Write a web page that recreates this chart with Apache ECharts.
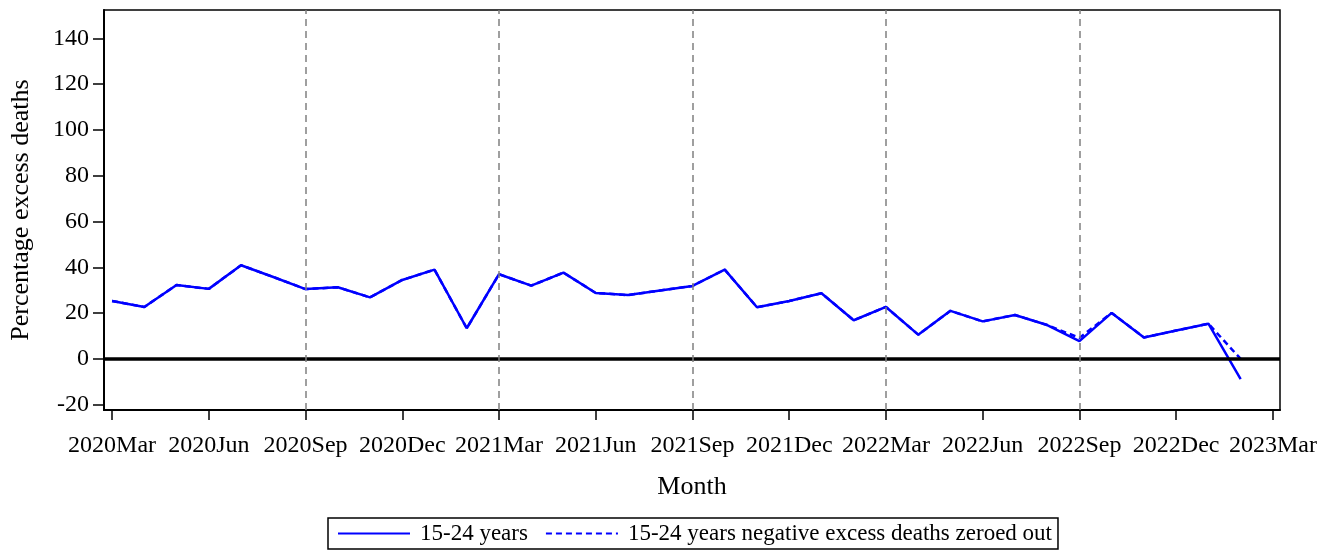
<!DOCTYPE html>
<html>
<head>
<meta charset="utf-8">
<script src="https://cdn.jsdelivr.net/npm/echarts@6/dist/echarts.min.js"></script>
<style>
  html, body { margin: 0; padding: 0; background: #fff; }
  #main { width: 1336px; height: 550px; }
</style>
</head>
<body>
<div id="main"></div>
<script>
// months, 2020 Mar .. 2023 Feb
var months = ['2020-03','2020-04','2020-05','2020-06','2020-07','2020-08','2020-09','2020-10','2020-11','2020-12',
  '2021-01','2021-02','2021-03','2021-04','2021-05','2021-06','2021-07','2021-08','2021-09','2021-10','2021-11','2021-12',
  '2022-01','2022-02','2022-03','2022-04','2022-05','2022-06','2022-07','2022-08','2022-09','2022-10','2022-11','2022-12',
  '2023-01','2023-02'];

// percentage excess deaths, 15-24 years
var excess = [25.3, 22.7, 32.3, 30.6, 40.9, 35.8, 30.5, 31.3, 26.9, 34.5,
  39.0, 13.4, 37.0, 32.0, 37.7, 28.8, 27.9, 29.9, 31.9, 39.0, 22.6, 25.3,
  28.7, 16.9, 22.7, 10.6, 21.0, 16.4, 19.2, 14.8, 7.8, 20.1, 9.4, 12.4,
  15.4, -8.8];

// same with negative excess deaths set to zero
var excessZeroed = [25.3, 22.7, 32.3, 30.6, 40.9, 35.8, 30.5, 31.3, 26.9, 34.5,
  39.0, 13.4, 37.0, 32.0, 37.7, 28.8, 27.9, 29.9, 31.9, 39.0, 22.6, 25.3,
  28.7, 16.9, 22.7, 10.6, 21.0, 16.4, 19.2, 14.8, 9.2, 20.1, 9.4, 12.4,
  15.4, 0];

var tickLabels = ['2020Mar','2020Jun','2020Sep','2020Dec','2021Mar','2021Jun','2021Sep',
  '2021Dec','2022Mar','2022Jun','2022Sep','2022Dec','2023Mar'];
var yTicks = [-20, 0, 20, 40, 60, 80, 100, 120, 140];
var refMonths = ['2020-09','2021-03','2021-09','2022-03','2022-09'];

var font = "'Liberation Serif', 'Times New Roman', serif";

// month index counted from 2020 Mar
function monthIdx(s) {
  var p = s.split('-');
  return (parseInt(p[0]) - 2020) * 12 + parseInt(p[1]) - 3;
}

var solidData = months.map(function (m, i) { return [monthIdx(m), excess[i]]; });
var dashData = months.map(function (m, i) { return [monthIdx(m), excessZeroed[i]]; });
var xTicks = tickLabels.map(function (t, i) { return i * 3; });

var myChart = echarts.init(document.getElementById('main'));
myChart.setOption({
  animation: false,
  textStyle: { fontFamily: font },
  grid: {
    left: 104, right: 56, top: 10, bottom: 140,
    outerBoundsMode: 'none',
    containLabel: false,
    show: true, borderColor: '#000', borderWidth: 1.5
  },
  legend: {
    bottom: 1,
    left: 328,
    data: ['15-24 years', '15-24 years negative excess deaths zeroed out'],
    borderColor: '#000',
    borderWidth: 1.5,
    padding: [4, 6, 4, 9],
    itemWidth: 72,
    itemHeight: 10,
    itemGap: 17,
    itemStyle: { color: 'rgba(0,0,0,0)', borderWidth: 0, opacity: 0 },
    textStyle: { fontFamily: font, fontSize: 23, color: '#000', padding: [0, 0, 0, 5] }
  },
  xAxis: {
    type: 'value',
    min: -0.25,
    max: 36.22,
    name: 'Month',
    nameLocation: 'middle',
    nameGap: 64,
    nameTextStyle: { fontFamily: font, fontSize: 26, color: '#000' },
    axisLine: { onZero: false, lineStyle: { color: '#000', width: 2 } },
    axisTick: { show: true, customValues: xTicks, length: 10, lineStyle: { color: '#000', width: 1.5 } },
    axisLabel: {
      customValues: xTicks,
      margin: 24,
      fontSize: 24,
      color: '#000',
      fontFamily: font,
      formatter: function (v) { return tickLabels[Math.round(v / 3)]; }
    },
    splitLine: { show: false }
  },
  yAxis: {
    type: 'value',
    min: -22.3,
    max: 152.4,
    name: 'Percentage excess deaths',
    nameLocation: 'middle',
    nameRotate: 90,
    nameGap: 70,
    nameTextStyle: { fontFamily: font, fontSize: 26, color: '#000' },
    axisLine: { show: true, onZero: false, lineStyle: { color: '#000', width: 2 } },
    axisTick: { show: true, customValues: yTicks, length: 11, lineStyle: { color: '#000', width: 1.5 } },
    axisLabel: {
      customValues: yTicks,
      margin: 15,
      fontSize: 24,
      color: '#000',
      fontFamily: font
    },
    splitLine: { show: false }
  },
  series: [
    {
      name: '15-24 years negative excess deaths zeroed out',
      type: 'line',
      data: dashData,
      symbol: 'none',
      z: 2,
      lineStyle: { color: '#0000ff', width: 2.5, type: [6, 4] },
      itemStyle: { color: '#0000ff' }
    },
    {
      name: '15-24 years',
      type: 'line',
      data: solidData,
      symbol: 'none',
      z: 3,
      lineStyle: { color: '#0000ff', width: 2.5 },
      itemStyle: { color: '#0000ff' },
      markLine: {
        silent: true,
        symbol: 'none',
        label: { show: false },
        data: [
          { yAxis: 0, lineStyle: { color: '#000', width: 3.5, type: 'solid' } }
        ].concat(refMonths.map(function (m) {
          return { xAxis: monthIdx(m), lineStyle: { color: '#808080', width: 1.5, type: [7, 5] } };
        }))
      }
    }
  ]
});
</script>
</body>
</html>
